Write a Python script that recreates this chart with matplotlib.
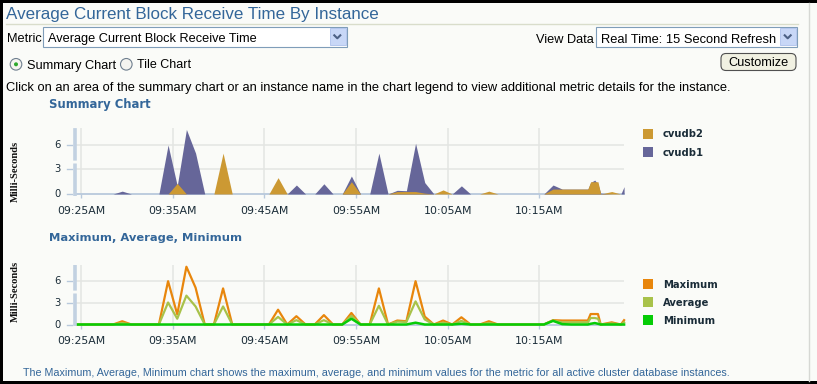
import matplotlib
matplotlib.use('Agg')
import matplotlib.pyplot as plt
from matplotlib.patches import Rectangle, FancyBboxPatch, Circle
from matplotlib.transforms import IdentityTransform, blended_transform_factory
from matplotlib.lines import Line2D

# ---------------- data ----------------
# sample times, minutes after 09:25AM
times = [-0.5, 0.5, 1.5, 2.5, 3.5, 4.5, 5.5, 6.5, 7.5, 8.5,
         9.5, 10.5, 11.5, 12.5, 13.5, 14.5, 15.5, 16.5, 17.5, 18.5,
         19.5, 20.5, 21.5, 22.5, 23.5, 24.5, 25.5, 26.5, 27.5, 28.5,
         29.5, 30.5, 31.5, 32.5, 33.5, 34.5, 35.5, 36.5, 37.5, 38.5,
         39.5, 40.5, 41.5, 42.5, 43.5, 44.5, 45.5, 46.5, 47.5, 48.5,
         49.5, 50.5, 51.5, 52.5, 53.5, 54.5, 55.3, 55.6, 56.05, 56.4,
         56.7, 57.9, 58.9, 59.25]

cvudb1 = [0, 0, 0, 0, 0, 0.35, 0, 0, 0, 0,
          6.0, 1.0, 7.9, 5.0, 0, 0, 0, 0, 0, 0,
          0, 0, 0, 0, 1.1, 0, 0, 1.25, 0, 0,
          2.2, 0, 0, 5.0, 0, 0.45, 0.4, 6.2, 1.4, 0,
          0, 0, 1.0, 0, 0, 0, 0, 0, 0, 0,
          0, 0, 1.1, 0.6, 0.6, 0.6, 0.6, 1.4, 1.7, 1.2,
          0.1, 0, 0, 0.9]

cvudb2 = [0, 0, 0, 0, 0, 0, 0, 0, 0, 0,
          0, 1.3, 0, 0, 0, 0, 5.0, 0, 0, 0,
          0, 0, 2.0, 0, 0, 0, 0, 0, 0, 0,
          1.5, 0, 0, 0, 0, 0.3, 0.3, 0.3, 0.1, 0,
          0.5, 0, 0, 0, 0, 0.35, 0, 0, 0, 0,
          0, 0, 0.6, 0.6, 0.6, 0.6, 0.6, 1.5, 1.5, 1.5,
          0, 0.3, 0, 0]

maximum = [0, 0, 0, 0, 0, 0.45, 0, 0, 0, 0,
           6.0, 1.4, 8.0, 5.1, 0, 0, 5.0, 0, 0, 0,
           0, 0, 2.05, 0, 1.15, 0, 0, 1.3, 0, 0,
           1.6, 0, 0, 5.0, 0, 0.55, 0.45, 6.0, 1.1, 0,
           0.55, 0, 1.0, 0, 0, 0.45, 0, 0, 0, 0,
           0, 0, 0.6, 0.55, 0.55, 0.55, 0.55, 1.45, 1.45, 1.45,
           0, 0.3, 0, 0.6]

average = [0, 0, 0, 0, 0, 0.2, 0, 0, 0, 0,
           3.05, 0.8, 4.0, 2.5, 0, 0, 2.5, 0, 0, 0,
           0, 0, 1.05, 0, 0.6, 0, 0, 0.6, 0, 0,
           1.2, 0, 0, 2.6, 0, 0.4, 0.35, 3.2, 0.7, 0,
           0.25, 0, 0.5, 0, 0, 0.2, 0, 0, 0, 0,
           0, 0, 0.55, 0.3, 0.3, 0.3, 0.3, 0.9, 0.9, 0.8,
           0, 0.15, 0, 0.3]

minimum = [0, 0, 0, 0, 0, 0, 0, 0, 0, 0,
           0, 0, 0, 0, 0, 0, 0, 0, 0, 0,
           0, 0, 0, 0, 0, 0, 0, 0, 0, 0,
           0.8, 0, 0, 0, 0, 0, 0, 0.25, 0, 0,
           0, 0, 0.1, 0, 0, 0, 0, 0, 0, 0,
           0, 0, 0.5, 0.05, 0, 0, 0, 0.1, 0.2, 0.1,
           0, 0, 0, 0]

tick_minutes = [0, 10, 20, 30, 40, 50]
tick_labels = ["09:25AM", "09:35AM", "09:45AM", "09:55AM", "10:05AM", "10:15AM"]
y_ticks = [0, 3, 6]

# ---------------- figure ----------------
W, H = 817, 384
BG = '#FAFBF8'
fig = plt.figure(figsize=(W / 100, H / 100), dpi=100)
fig.patch.set_facecolor(BG)
renderer = fig.canvas.get_renderer()
IT = IdentityTransform()

BLUE = '#336699'
DARK = '#1A2C38'


def T(x, y, s, size=9, width=None, color='black', family='Liberation Sans',
      weight='normal', ha='left', va='baseline', transform=None, rotation=0):
    tr = IT if transform is None else transform
    yy = H - y if transform is None else y
    t = fig.text(x, yy, s, transform=tr, fontsize=size, color=color,
                 family=family, weight=weight, ha=ha, va=va)
    if width:
        w = t.get_window_extent(renderer).width
        t.set_fontsize(size * width / w)
    if rotation:
        t.set_rotation(rotation)
    return t


def R(x0, y0, x1, y1, **kw):
    p = Rectangle((x0, H - y1), x1 - x0, y1 - y0, transform=IT, **kw)
    fig.add_artist(p)
    return p


def L(xs, ys, **kw):
    fig.add_artist(Line2D(xs, [H - y for y in ys], transform=IT, **kw))


# frame
R(0, 0, W, 3, facecolor='black', lw=0)
R(0, 0, 3, H, facecolor='black', lw=0)
R(0, 381, W, H, facecolor='black', lw=0)
L([808.5, 808.5], [3, 381], color='#D6D8D4', lw=1)

# title
T(6.5, 18.5, "Average Current Block Receive Time By Instance", size=12,
  width=372, color=BLUE)
L([6, 797.5], [23.5, 23.5], color='#D9DDCB', lw=1)

# metric dropdown
T(6.5, 42.5, "Metric", size=9, width=35)
R(42.5, 26.5, 346.5, 46.5, facecolor='white', edgecolor='#7F9DB9', lw=0.8)
T(47.5, 42, "Average Current Block Receive Time", size=9, width=209)
R(330, 28, 345.5, 45, facecolor='#C8D7F7', edgecolor='#B4C6EE', lw=0.7)
L([334.3, 337.3, 340.3], [35.3, 38.3, 35.3], color='#4D6185', lw=1.5)

# view data dropdown
T(536, 43, "View Data", size=9, width=58)
R(595.5, 26.5, 797, 46.5, facecolor='white', edgecolor='#7F9DB9', lw=0.8)
T(601, 43, "Real Time: 15 Second Refresh", size=9, width=175)
R(780, 28, 796, 45, facecolor='#C8D7F7', edgecolor='#B4C6EE', lw=0.7)
L([784.7, 787.7, 790.7], [35.3, 38.3, 35.3], color='#4D6185', lw=1.5)

# radio buttons
fig.add_artist(Circle((16, H - 64.3), 5.8, transform=IT, facecolor='#F4F4F0',
                      edgecolor='#6F7F8F', lw=0.8))
fig.add_artist(Circle((16, H - 64.3), 2.0, transform=IT, facecolor='#2DA82D', lw=0))
T(26.7, 68.5, "Summary Chart", size=9, width=89)
fig.add_artist(Circle((126.3, H - 64.3), 5.8, transform=IT, facecolor='#F4F4F0',
                      edgecolor='#6F7F8F', lw=0.8))
T(137.3, 68.5, "Tile Chart", size=9, width=54)

# customize button
fig.add_artist(FancyBboxPatch((721, H - 70.5), 75, 17, boxstyle='round,pad=0,rounding_size=5',
                              transform=IT, facecolor='#F1F1E2', edgecolor='#505050', lw=0.8))
T(758.3, 66.5, "Customize", size=9, width=60, ha='center')

# instruction
T(6.5, 90.5, "Click on an area of the summary chart or an instance name in the chart "
  "legend to view additional metric details for the instance.", size=9, width=733)

# headings
T(49, 108, "Summary Chart", size=8, width=102, color=BLUE, family='DejaVu Sans', weight='bold')
T(49, 241, "Maximum, Average, Minimum", size=8, width=191, color=BLUE,
  family='DejaVu Sans', weight='bold')

# footer
T(23.3, 375.5, "The Maximum, Average, Minimum chart shows the maximum, average, and minimum "
  "values for the metric for all active cluster database instances.", size=8,
  width=702, color=BLUE)

# ---------------- charts ----------------
PX_PER_MIN = 9.166
X0_PX = 81.0  # pixel of 09:25AM
LEFT, RIGHT = 75.0, 624.3
xmin = (LEFT - X0_PX) / PX_PER_MIN
xmax = (RIGHT - X0_PX) / PX_PER_MIN
AXIS = '#B8C9DC'
GRID = '#E3E5E2'


def add_ax(top, bottom, unit_px):
    ax = fig.add_axes([LEFT / W, 1 - bottom / H, (RIGHT - LEFT) / W, (bottom - top) / H])
    ax.set_facecolor('none')
    ax.set_xlim(xmin, xmax)
    ax.set_ylim(0, (bottom - top) / unit_px)
    for s in ax.spines.values():
        s.set_visible(False)
    ax.set_xticks(tick_minutes)
    ax.set_yticks(y_ticks)
    ax.set_xticklabels([])
    ax.set_yticklabels([])
    ax.tick_params(axis='x', length=3, width=1, color=AXIS, direction='out')
    ax.tick_params(axis='y', length=0)
    for v in y_ticks[1:]:
        ax.axhline(v, color=GRID, lw=1.1, zorder=0)
    for m in tick_minutes:
        ax.axvline(m, color=GRID, lw=1.1, zorder=0)
    ax.axhline(0, color=AXIS, lw=1.3, zorder=1, clip_on=False)
    # left thick axis bar (light, slightly dashed)
    ax.plot([xmin, xmin], [-0.25, ax.get_ylim()[1]], color='#C2D1E1', lw=2.6,
            linestyle=(0, (9, 0.8)), solid_capstyle='butt', clip_on=False, zorder=3)
    # tick labels
    bx = blended_transform_factory(ax.transData, IT)
    for m, lab in zip(tick_minutes, tick_labels):
        T(m, H - (bottom + 20.0), lab, size=7, width=48.5, color=DARK,
          family='DejaVu Sans', ha='center', transform=bx)
    by = blended_transform_factory(IT, ax.transData)
    for v in y_ticks:
        T(60.5, v, str(v), size=7.2, color=DARK, family='DejaVu Sans', ha='right',
          va='center', transform=by)
        ax.plot([xmin - 0.85, xmin - 0.3], [v, v], color=AXIS, lw=1, clip_on=False)
    return ax


# summary chart (overlapping areas)
ax1 = add_ax(128, 194, 8.17)
ax1.fill_between(times, cvudb1, color='#666699', lw=0, zorder=2)
ax1.fill_between(times, cvudb2, color='#CC9933', lw=0, zorder=2.5)

# max/avg/min chart
ax2 = add_ax(265, 324.5, 7.22)
ax2.plot(times, maximum, color='#E8860C', lw=1.6, zorder=2, clip_on=False)
ax2.plot(times, average, color='#A8C24A', lw=1.6, zorder=2.2, clip_on=False)
ax2.plot(times, minimum, color='#06CC06', lw=1.8, zorder=2.4, clip_on=False)

# y-axis titles
T(15.5, 171, "Milli-Seconds", size=8, width=61, family='Liberation Serif',
  weight='bold', ha='center', va='center', rotation=90, color='#111111')
T(15.5, 291, "Milli-Seconds", size=8, width=61, family='Liberation Serif',
  weight='bold', ha='center', va='center', rotation=90, color='#111111')

# legends
legend_top = [("cvudb2", '#CC9933', 129.3, 137.3), ("cvudb1", '#666699', 147.3, 155.7)]
legend_bot = [("Maximum", '#E8860C', 279, 287.7), ("Average", '#A8C24A', 297.3, 305.7),
              ("Minimum", '#06CC06', 315, 323.7)]
for name, col, sq_top, base in legend_top + legend_bot:
    R(643.3, sq_top, 652.8, sq_top + 9.5, facecolor=col, lw=0)
    T(663, base, name, size=7.2, color=DARK, family='DejaVu Sans', weight='bold')

fig.savefig('out.png', dpi=100, facecolor=BG)
